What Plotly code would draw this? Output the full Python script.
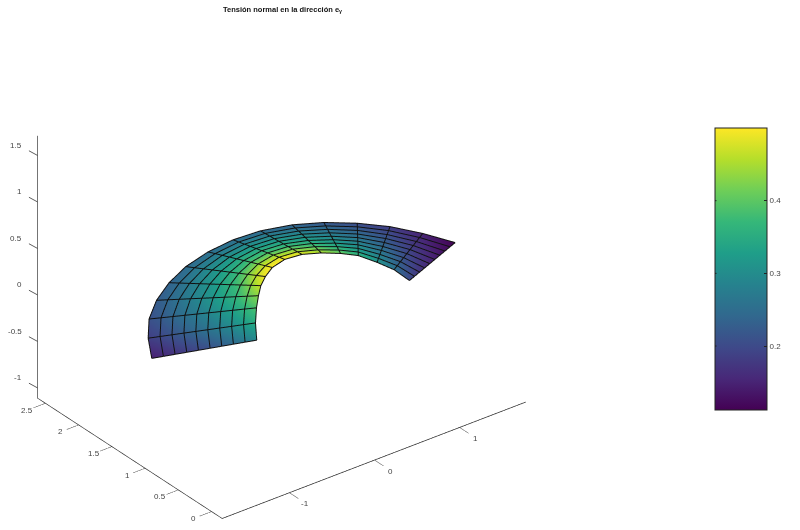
import numpy as np
import plotly.graph_objects as go

# Mesh edges
outer_x = [-1.79,-1.587,-1.363,-1.095,-.803,-.497,-.165,.157,.462,.764,1.026,1.264,1.468,1.633,1.769]
outer_y = [.90,1.214,1.487,1.718,1.903,2.044,2.134,2.17,2.148,2.059,1.916,1.719,1.487,1.205,.892]
inner_x = [-.806,-.62,-.441,-.289,-.157,-.02,.134,.318,.501,.662,.798,.905,.967,1.009,1.0]
inner_y = [.58,.837,1.051,1.216,1.349,1.456,1.549,1.597,1.574,1.487,1.372,1.243,1.04,.838,.595]
radial_steps = [0,1/9,2/9,3/9,4/9,5/9,6/9,7/9,8/9,1]
plane_z = 0.114

# Stress per node, outer edge (first row) to inner edge (last row)
stress = [
 [.145,.185,.21,.225,.235,.245,.25,.25,.245,.235,.22,.205,.185,.15,.115],
 [.157,.198,.224,.241,.253,.264,.27,.27,.265,.254,.236,.218,.196,.159,.122],
 [.170,.213,.241,.260,.273,.285,.293,.293,.287,.275,.254,.233,.208,.169,.129],
 [.183,.228,.257,.278,.294,.306,.315,.315,.309,.296,.272,.248,.220,.179,.137],
 [.196,.243,.273,.297,.314,.327,.338,.338,.331,.317,.29,.263,.232,.189,.145],
 [.210,.259,.291,.317,.336,.351,.363,.363,.355,.341,.31,.279,.246,.2,.153],
 [.226,.277,.311,.340,.361,.377,.39,.39,.382,.367,.332,.297,.261,.212,.163],
 [.244,.297,.332,.364,.388,.42,.435,.435,.425,.395,.356,.317,.277,.225,.173],
 [.265,.322,.359,.40,.43,.465,.48,.48,.465,.43,.386,.342,.297,.241,.186],
 [.29,.35,.39,.43,.47,.495,.50,.50,.49,.47,.42,.37,.32,.26,.20],
]

x_ticks = [-1,0,1]
y_ticks = [0,.5,1,1.5,2,2.5]
z_ticks = [-1,-.5,0,.5,1,1.5]
bar_ticks = [.2,.3,.4]
title_text = "<b>Tensión normal en la dirección e<sub>γ</sub></b>"
x_range = [-1.79,1.775]
y_range = [-.16,2.62]
z_range = [-1.11,1.71]
c_range = [.112,.5]

s = np.array(radial_steps)[:,None]
X = np.array(outer_x)*(1-s)+np.array(inner_x)*s
Y = np.array(outer_y)*(1-s)+np.array(inner_y)*s
Z = np.full(X.shape, plane_z)
C = np.array(stress)

BAR_TOP, BAR_LEN, BAR_LEFT = 128, 282, 715

fig = go.Figure()
fig.add_trace(go.Surface(x=X,y=Y,z=Z,surfacecolor=C,colorscale="Viridis",cmin=c_range[0],cmax=c_range[1],
    lighting=dict(ambient=1,diffuse=0,specular=0,roughness=1,fresnel=0),hoverinfo="skip",
    colorbar=dict(thicknessmode="pixels",thickness=52,lenmode="pixels",len=BAR_LEN,
        x=BAR_LEFT/800,xanchor="left",xpad=0,y=1-BAR_TOP/530,yanchor="top",ypad=0,
        outlinecolor="#222",outlinewidth=1,tickvals=bar_ticks,ticktext=["0.2","0.3","0.4"],
        ticks="inside",ticklen=3,tickcolor="#222",tickfont=dict(size=8,color="#444",family="Liberation Sans"))))

lx,ly,lz=[],[],[]
for r in range(X.shape[0]):
    lx+=list(X[r])+[None]; ly+=list(Y[r])+[None]; lz+=list(Z[r]+.004)+[None]
for c in range(X.shape[1]):
    lx+=list(X[:,c])+[None]; ly+=list(Y[:,c])+[None]; lz+=list(Z[:,c]+.004)+[None]
fig.add_trace(go.Scatter3d(x=lx,y=ly,z=lz,mode="lines",line=dict(color="#111",width=2),hoverinfo="skip",showlegend=False))

def ax(rng,vals,ticks="outside"):
    return dict(range=rng,tickvals=vals,showticklabels=False,title="",showgrid=False,zeroline=False,
        showbackground=False,showline=True,linecolor="#222",linewidth=1.5,ticks=ticks,ticklen=15,tickwidth=1,tickcolor="#222",
        showspikes=False,autorange=False)

tick_font = dict(size=8,color="#444",family="Liberation Sans")
notes = []
for v in x_ticks:
    notes.append(dict(x=v,y=y_range[0],z=z_range[0],text=f"{v:g}",showarrow=False,xshift=16,yshift=-11,font=tick_font))
for v in y_ticks:
    notes.append(dict(x=x_range[0],y=v,z=z_range[0],text=f"{v:g}",showarrow=False,xshift=-18,yshift=-7,font=tick_font))
for v in z_ticks:
    notes.append(dict(x=x_range[0],y=y_range[1],z=v,text=f"{v:g}",showarrow=False,xanchor="right",xshift=-13,yshift=10,font=tick_font))
    notes.append(dict(x=x_range[0],y=y_range[1],z=v,text=" ",showarrow=True,arrowhead=0,arrowwidth=.8,arrowcolor="#333",ax=-11,ay=-6,font=tick_font))

# Inner ticks on the colour bar's left edge
bar_left_ticks = []
for v in bar_ticks:
    frac = (v-c_range[0])/(c_range[1]-c_range[0])
    bar_left_ticks.append(dict(xref="paper",yref="paper",x=BAR_LEFT/800,y=1-(BAR_TOP+BAR_LEN*(1-frac))/530,
        text=" ",showarrow=True,arrowhead=0,arrowwidth=1,arrowcolor="#222",ax=4,ay=0,font=tick_font))

fig.update_layout(width=800,height=530,margin=dict(l=0,r=0,t=0,b=0),paper_bgcolor="white",showlegend=False,
    annotations=bar_left_ticks,
    title=dict(text=title_text,x=282.5/800,xanchor="center",y=1-9/530,yanchor="middle",font=dict(size=7.5,color="#111",family="Liberation Sans")),
    scene=dict(domain=dict(x=[0,563/800],y=[0,1-8/530]),annotations=notes,
        xaxis=ax(x_range,x_ticks),yaxis=ax(y_range,y_ticks),zaxis=ax(z_range,z_ticks,""),
        aspectmode="manual",aspectratio=dict(x=1.465,y=1.163,z=1.16),
        camera=dict(projection=dict(type="orthographic"),up=dict(x=0,y=0,z=1),center=dict(x=0,y=0,z=0),
            eye=dict(x=-.527,y=-.687,z=.5))))
fig.write_html("out.html",post_script="document.body.style.margin='0';",config={"displayModeBar":False})
